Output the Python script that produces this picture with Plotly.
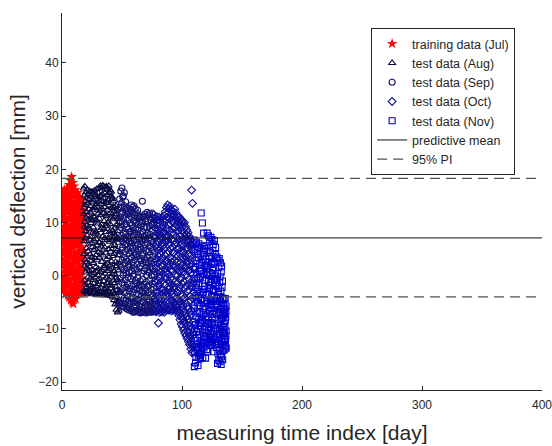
import plotly.graph_objects as go

# ---------------- data ----------------
JUL_START = 0
JUL_Y = [
    [15.1, 13.7, 11.2, 10.4, 8.1, 6.6, 5.9, 3.2, 1.7, -0.4, -1.9, -3.0],
    [14.6, 12.9, 12.2, 9.3, 7.7, 5.0, 4.1, 2.6, 0.8, -1.2, -2.6, 10.8],
    [16.2, 14.3, 11.6, 9.9, 8.6, 6.1, 4.6, 2.1, -0.2, -1.6, -3.4, 13.0],
    [15.5, 13.2, 12.6, 10.1, 7.3, 6.8, 3.7, 1.3, 0.2, -2.4, -3.1, 8.9],
    [16.4, 14.8, 11.9, 9.6, 8.4, 5.5, 3.9, 2.8, -0.7, -1.1, -3.7, 12.3],
    [15.9, 13.5, 12.8, 10.7, 7.9, 6.3, 4.4, 1.8, 0.5, -2.0, -4.1, 9.2],
    [17.1, 15.2, 12.1, 11.0, 8.7, 7.2, 5.1, 2.4, 1.0, -0.9, -3.5, 13.9],
    [17.9, 15.8, 14.4, 11.7, 9.4, 6.9, 4.9, 3.3, 0.6, -1.8, -2.9, -4.6],
    [18.6, 16.7, 13.6, 12.5, 10.2, 7.5, 6.0, 3.5, 1.4, -0.6, -3.2, -5.0],
    [17.5, 16.0, 14.9, 12.0, 9.1, 8.3, 5.3, 2.2, 0.9, -2.1, -3.9, -5.3],
    [16.8, 15.0, 12.4, 11.3, 9.8, 7.0, 4.3, 3.0, 0.1, -1.5, -4.2, 13.4],
    [16.1, 14.0, 13.1, 10.5, 8.2, 6.4, 5.6, 2.5, 1.1, -1.0, -3.6, -4.4],
    [15.2, 13.8, 11.5, 10.9, 8.8, 5.8, 3.6, 2.9, -0.3, -2.2, -3.3, 7.6],
    [15.6, 12.7, 11.8, 9.2, 7.6, 6.9, 4.2, 1.5, 0.4, -1.4, -3.0, 13.9],
    [14.9, 13.3, 12.0, 10.0, 8.5, 6.2, 4.7, 2.0, 0.0, -2.5, -3.4, 9.5],
    [14.5, 12.5, 10.8, 9.7, 7.1, 5.4, 3.1, 1.6, -0.8, -1.7, -3.2, 12.9],
    [14.1, 12.2, 11.1, 8.9, 7.4, 5.2, 3.4, 0.7, -0.5, -2.3, -3.1, 10.3],
    [13.6, 11.4, 9.9, 8.0, 6.7, 4.5, 2.7, 1.2, -1.3, -2.8, -3.3, 12.0],
]

AUG_START = 18
AUG_Y = [
    [16.4, 15.1, 12.8, 11.6, 9.2, 6.5, 4.1, 1.9, -0.9, -2.8],
    [16.8, 14.0, 13.3, 10.1, 8.4, 7.0, 3.0, 0.6, -1.7, -3.1],
    [15.7, 14.7, 12.0, 10.9, 7.6, 5.2, 2.5, 1.4, -2.2, -2.9],
    [16.2, 13.6, 11.3, 9.5, 8.9, 4.6, 3.6, -0.2, -1.3, -3.4],
    [15.3, 14.4, 12.5, 10.6, 6.8, 5.9, 2.2, 0.9, -2.6, -3.0],
    [15.9, 13.1, 11.9, 8.7, 7.3, 4.0, 1.7, -0.5, -1.9, -3.2],
    [15.1, 13.9, 10.8, 9.9, 6.1, 3.5, 2.8, 0.2, -2.4, -3.5],
    [15.8, 14.2, 12.3, 10.4, 8.1, 5.4, 1.1, -0.8, -2.1, -3.1],
    [15.5, 12.9, 11.1, 9.1, 6.6, 4.8, 2.4, 0.5, -1.5, -3.3],
    [16.0, 14.5, 12.7, 11.0, 7.9, 5.1, 3.3, -0.3, -2.7, -3.0],
    [15.2, 13.4, 10.5, 8.3, 6.9, 3.9, 1.6, 0.8, -2.0, -3.6],
    [16.3, 14.8, 13.0, 10.2, 7.7, 5.7, 2.9, 0.1, -1.6, -3.4],
    [15.6, 13.8, 11.7, 9.8, 6.3, 4.4, 1.3, -0.6, -2.5, -3.2],
    [16.5, 15.0, 12.2, 10.7, 8.6, 6.2, 3.4, 0.7, -1.2, -3.5],
    [16.9, 14.1, 13.5, 11.4, 9.0, 5.5, 4.2, 1.0, -2.3, -3.0],
    [16.6, 15.3, 12.6, 9.6, 7.4, 6.0, 2.6, -0.1, -1.8, -3.6],
    [17.0, 14.6, 13.9, 11.8, 8.8, 4.9, 3.8, 1.5, -1.0, -3.3],
    [16.7, 15.5, 12.9, 10.3, 7.1, 5.3, 1.8, 0.4, -2.6, -3.7],
    [16.2, 14.0, 11.5, 9.4, 8.2, 4.3, 2.1, -0.4, -2.0, -3.1],
    [16.8, 15.2, 13.7, 11.2, 9.3, 6.7, 3.1, 0.9, -1.4, -3.4],
    [16.4, 14.3, 12.4, 10.0, 7.0, 5.0, 2.3, -0.7, -2.8, -3.6],
    [16.9, 15.6, 13.2, 11.5, 8.3, 6.4, 3.5, 1.2, -1.7, -3.2],
    [16.1, 14.9, 11.8, 9.7, 7.8, 4.5, 1.9, -0.2, -2.4, -3.8],
    [15.8, 14.4, 12.8, 10.9, 6.7, 5.6, 2.7, 0.3, -1.9, -3.5],
    [14.7, 13.0, 10.6, 8.5, 7.2, 3.7, 1.5, -0.9, -2.9, -4.1],
    [14.0, 12.1, 11.0, 8.0, 5.8, 4.1, 0.8, -1.4, -3.3, -4.6],
    [12.8, 11.3, 9.0, 7.5, 5.0, 2.6, 0.2, -2.1, -4.0, -5.4],
    [13.1, 11.6, 9.6, 6.9, 4.7, 1.8, -0.4, -2.7, -4.8, -6.4],
    [12.3, 10.7, 8.4, 7.1, 3.9, 2.3, -0.8, -3.2, -5.3, -6.9],
    [12.6, 10.1, 9.3, 6.2, 4.4, 1.0, -1.1, -2.9, -4.9, -6.6],
]

SEP_START = 48
SEP_Y = [
    [14.4, 12.9, 10.3, 8.6, 6.9, 4.0, 2.2, -0.5, -3.0, -5.4],
    [15.9, 13.7, 11.6, 9.1, 7.5, 4.8, 1.6, -1.3, -3.7, -5.1],
    [16.5, 14.8, 12.0, 10.2, 6.3, 5.3, 2.9, 0.1, -2.4, -5.7],
    [15.0, 13.2, 10.9, 8.0, 7.1, 3.4, 1.0, -1.8, -4.3, -5.9],
    [15.6, 12.5, 11.4, 9.6, 5.8, 4.5, 2.4, -0.8, -3.2, -5.3],
    [13.9, 12.2, 9.7, 7.8, 6.0, 3.1, 0.5, -2.2, -4.6, -6.1],
    [12.7, 11.5, 9.2, 6.7, 4.9, 2.7, 1.3, -1.5, -3.9, -6.3],
    [12.0, 10.6, 8.8, 7.4, 4.2, 2.0, -0.3, -2.9, -4.8, -5.8],
    [11.7, 9.9, 8.1, 6.4, 5.5, 1.7, 0.6, -2.5, -5.2, -6.5],
    [12.5, 11.1, 8.4, 7.0, 4.6, 3.3, -0.6, -1.9, -4.4, -6.2],
    [13.3, 11.8, 9.5, 6.1, 5.2, 2.5, 0.9, -3.1, -4.1, -6.6],
    [12.9, 10.4, 9.0, 7.6, 3.8, 1.9, -0.1, -2.6, -5.0, -6.9],
    [13.1, 11.3, 8.2, 6.6, 4.4, 3.0, 0.3, -1.7, -4.7, -6.7],
    [12.6, 10.0, 8.9, 5.7, 4.0, 1.2, -0.9, -3.4, -5.5, -6.8],
    [11.8, 10.8, 7.7, 6.3, 3.5, 2.1, -1.4, -2.3, -5.1, -6.6],
    [12.3, 9.6, 8.6, 5.9, 4.8, 0.7, -0.4, -3.6, -4.5, -6.4],
    [11.3, 10.1, 7.2, 6.8, 3.2, 1.5, -1.8, -2.8, -5.7, -6.9],
    [10.9, 9.4, 7.9, 5.4, 2.9, 1.8, -1.0, -3.9, -5.3, -7.0],
    [11.1, 9.8, 6.9, 5.0, 3.7, 0.4, -2.1, -3.0, -5.9, -6.8],
    [14.0, 11.0, 8.3, 6.5, 4.3, 2.3, -0.7, -3.3, -4.9, -6.7],
    [11.2, 9.1, 7.4, 5.1, 3.0, 0.9, -1.6, -4.1, -5.6, -6.9],
    [11.6, 10.3, 6.8, 5.8, 2.6, 1.4, -2.4, -3.7, -6.0, -6.6],
    [10.7, 9.0, 7.6, 4.7, 3.4, 0.1, -1.2, -4.4, -5.4, -7.0],
    [11.9, 10.2, 8.0, 6.2, 2.4, 1.1, -2.0, -3.2, -5.8, -6.4],
    [11.4, 9.3, 7.1, 4.5, 3.9, 0.6, -1.9, -4.6, -5.0, -6.8],
    [11.7, 10.5, 7.8, 5.6, 2.8, 1.6, -0.8, -3.5, -6.1, -6.7],
    [11.0, 9.5, 6.6, 5.3, 2.2, 0.0, -2.6, -4.0, -5.7, -6.9],
    [11.8, 9.7, 8.5, 4.9, 3.6, 1.3, -1.5, -3.8, -5.2, -6.5],
    [11.5, 10.0, 7.3, 6.0, 2.5, 0.2, -2.2, -4.3, -6.2, -6.8],
    [10.9, 8.9, 7.5, 4.4, 3.1, 0.8, -1.1, -4.8, -5.5, -6.7],
]

OCT_START = 78
OCT_Y = [
    [10.8, 9.6, 7.2, 5.5, 3.0, 1.4, -1.3, -3.8, -5.4, -6.8],
    [11.1, 8.7, 6.4, 5.9, 2.3, 0.5, -2.1, -3.1, -5.9, -6.6],
    [10.5, 9.3, 7.7, 4.8, 3.6, 1.0, -0.9, -4.2, -5.1, -8.9],
    [11.0, 8.4, 6.9, 4.2, 2.7, -0.2, -1.7, -3.5, -6.1, -6.9],
    [10.2, 9.0, 7.4, 5.2, 1.9, 0.7, -2.5, -4.5, -5.6, -6.7],
    [10.9, 8.1, 6.1, 4.5, 3.3, 1.8, -1.0, -3.3, -5.2, -6.8],
    [10.4, 9.4, 7.0, 5.6, 2.1, 0.3, -2.7, -4.0, -6.0, -6.5],
    [11.3, 10.1, 8.2, 5.0, 3.8, 1.2, -1.4, -3.7, -5.5, -6.9],
    [12.0, 10.5, 7.6, 6.3, 2.9, 0.6, -0.6, -2.9, -5.0, -6.6],
    [12.8, 11.0, 8.9, 7.1, 4.1, 2.2, -0.3, -3.4, -4.7, -6.4],
    [13.3, 11.9, 9.5, 6.6, 4.6, 1.5, 0.4, -2.6, -5.3, -6.3],
    [12.6, 10.8, 8.5, 7.4, 3.4, 2.0, -1.1, -2.2, -4.9, -6.5],
    [13.0, 11.5, 9.8, 6.0, 5.1, 1.1, -0.5, -3.0, -5.7, -6.2],
    [12.4, 10.2, 8.0, 6.8, 3.2, 2.6, -1.6, -3.6, -4.6, -6.6],
    [12.2, 11.2, 8.7, 5.4, 4.4, 0.9, -0.8, -2.4, -5.8, -6.4],
    [11.6, 10.0, 7.9, 6.5, 2.8, 1.7, -2.0, -3.9, -5.1, -6.5],
    [12.5, 10.9, 9.1, 5.8, 3.9, 0.2, -1.2, -4.3, -5.6, -6.3],
    [11.8, 9.5, 7.3, 6.2, 2.5, 1.3, -2.3, -3.2, -6.0, -6.6],
    [11.2, 10.3, 8.4, 4.9, 3.7, 0.0, -1.5, -4.6, -5.4, -6.8],
    [10.9, 9.1, 6.8, 5.3, 1.6, 0.8, -2.8, -4.9, -6.7, -7.5],
    [11.0, 9.8, 7.5, 4.1, 2.4, -0.7, -2.2, -5.3, -6.9, -8.3],
    [10.6, 8.5, 6.0, 4.7, 1.2, -0.4, -3.4, -5.9, -7.6, -9.1],
    [10.3, 9.2, 6.7, 3.5, 2.0, -1.6, -3.9, -5.5, -8.1, -9.6],
    [9.8, 8.0, 5.6, 4.3, 0.7, -1.1, -4.5, -6.6, -8.6, -10.2],
    [10.0, 7.3, 6.2, 2.9, 1.5, -2.4, -4.1, -7.2, -9.0, -10.8],
    [9.2, 7.8, 4.9, 3.6, 0.1, -1.9, -5.2, -7.7, -9.5, -11.3],
    [8.6, 6.8, 5.3, 2.3, 0.9, -3.0, -5.8, -8.2, -10.4, -11.8],
    [8.1, 6.4, 4.1, 2.8, -0.6, -2.7, -6.3, -8.8, -10.9, -12.4],
    [7.4, 5.9, 3.6, 1.0, -1.3, -3.8, -6.9, -9.4, -11.5, -13.0],
    [6.8, 5.1, 2.9, 0.5, -2.0, -4.7, -7.4, -10.0, -12.3, -13.8],
    [16.1, 13.6, 5.7, 2.2, -0.9, -4.2, -6.6, -10.7, -12.9, -14.5],
    [6.2, 4.6, 1.4, -1.5, -3.2, -5.5, -8.7, -11.1, -13.4, -14.2],
]

NOV_START = 110
NOV_Y = [
    [6.7, 4.9, 1.2, -0.6, -4.4, -6.1, -9.9, -11.8, -14.5, -17.1],
    [5.9, 2.8, 1.6, -2.2, -3.7, -7.6, -9.2, -12.9, -15.4, -16.4],
    [6.3, 4.1, 0.3, -1.4, -5.0, -6.8, -10.5, -12.2, -14.0, -13.4],
    [5.4, 3.4, -0.5, -2.9, -4.1, -8.3, -10.0, -13.6, -15.1, -16.9],
    [6.0, 2.2, 0.8, -1.9, -5.6, -7.0, -11.1, -12.5, -14.7, -9.0],
    [5.2, 3.7, -0.1, -3.3, -4.7, -8.8, -9.5, -13.2, -14.9, -15.6],
    [11.8, 5.6, 2.5, 0.9, -2.6, -4.3, -7.9, -10.6, -12.7, -14.1],
    [9.9, 4.4, 3.0, -0.4, -3.1, -6.2, -8.5, -11.3, -13.4, -15.4],
    [8.0, 5.1, 1.9, 0.4, -2.0, -5.8, -7.2, -10.1, -12.1, -13.6],
    [4.8, 3.1, -0.8, -2.5, -6.4, -7.7, -11.5, -12.8, -15.5, -9.6],
    [5.6, 2.0, 1.1, -3.6, -4.9, -8.1, -10.8, -11.9, -13.9, 1.8],
    [8.0, 4.6, 1.7, 0.2, -3.3, -5.2, -9.0, -10.3, -12.6, -14.3],
    [7.5, 3.6, 2.6, -1.1, -2.4, -6.7, -8.2, -11.6, -12.4, -9.8],
    [6.4, 4.3, 0.6, -1.8, -4.5, -6.0, -9.6, -11.0, -12.9, -4.6],
    [7.2, 3.2, 2.3, -0.7, -3.9, -5.4, -8.8, -10.9, -12.3, -13.1],
    [6.8, 4.7, 1.0, -1.3, -2.9, -7.3, -8.0, -11.4, -12.6, 0.4],
    [5.9, 2.6, 1.4, -2.6, -4.0, -6.5, -10.4, -11.7, -14.3, -2.8],
    [6.6, 4.0, 0.0, -0.9, -4.8, -5.9, -9.3, -12.0, -12.9, -7.9],
    [5.3, 3.3, -0.6, -2.0, -5.3, -7.1, -10.0, -12.7, -13.5, -0.9],
    [3.5, 0.4, -0.9, -4.3, -5.9, -9.7, -11.2, -14.6, -16.5, -5.6],
    [2.9, 1.5, -2.4, -3.5, -7.4, -8.9, -12.7, -14.0, -15.9, -3.0],
    [3.2, -0.2, -1.3, -4.8, -6.3, -10.2, -11.6, -14.9, -16.2, -10.9],
    [2.4, 0.7, -2.9, -4.0, -8.0, -9.4, -13.0, -15.3, -16.7, -7.0],
    [1.8, -1.0, -2.2, -5.7, -7.5, -10.7, -12.4, -15.8, -14.2, -12.0],
    [-4.2, -5.2, -7.4, -8.0, -10.2, -11.0, -12.9, -14.0, -6.3, -9.6],
    [-4.5, -6.1, -6.9, -8.9, -9.7, -11.8, -12.5, -13.8, -7.1, -10.6],
    [-4.3, -5.7, -7.8, -8.4, -10.4, -11.3, -13.3, -13.6, -6.6, -12.0],
]

PRED_MEAN = 7.1
PI_LOWER = -4.0
PI_UPPER = 18.3
X_RANGE = [0, 400]
Y_RANGE = [-21.5, 49.4]
X_TICKS = [0, 100, 200, 300, 400]
Y_TICKS = [-20, -10, 0, 10, 20, 30, 40]

LABELS = ["training data (Jul)", "test data (Aug)", "test data (Sep)",
          "test data (Oct)", "test data (Nov)", "predictive mean", "95% PI"]


def flatten(start, rows):
    """Hourly readings of each day are spread across that day."""
    xs, ys = [], []
    for d, row in enumerate(rows):
        n = len(row)
        for k, v in enumerate(row):
            xs.append(start + d + ((k * 7) % n) / n)
            ys.append(v)
    return xs, ys


FONT = "Liberation Sans, Arial, sans-serif"
TXT = "#262626"

fig = go.Figure()

series = [
    (JUL_START, JUL_Y, LABELS[0], "star", "#ff0000", 8, True),
    (AUG_START, AUG_Y, LABELS[1], "triangle-up-open", "#0a0a42", 6, False),
    (SEP_START, SEP_Y, LABELS[2], "circle-open", "#121272", 6, False),
    (OCT_START, OCT_Y, LABELS[3], "diamond-open", "#0d0d9c", 6, False),
    (NOV_START, NOV_Y, LABELS[4], "square-open", "#0000cc", 6, False),
]
for start, rows, name, sym, col, size, filled in series:
    xs, ys = flatten(start, rows)
    fig.add_trace(go.Scatter(
        x=xs, y=ys, mode="markers", name=name,
        marker=dict(symbol=sym, size=size, color=col,
                    line=dict(width=0 if filled else 1.1, color=col)),
    ))

fig.add_trace(go.Scatter(x=X_RANGE, y=[PRED_MEAN, PRED_MEAN], mode="lines",
                         name=LABELS[5], line=dict(color="#111111", width=1)))
fig.add_trace(go.Scatter(x=X_RANGE, y=[PI_UPPER, PI_UPPER], mode="lines",
                         name=LABELS[6],
                         line=dict(color="#555555", width=1.2, dash="10px,6px")))
fig.add_trace(go.Scatter(x=X_RANGE, y=[PI_LOWER, PI_LOWER], mode="lines",
                         showlegend=False,
                         line=dict(color="#555555", width=1.2, dash="10px,6px")))

axis_common = dict(
    showgrid=False, zeroline=False, showline=True, linecolor=TXT, linewidth=1,
    ticks="inside", ticklen=4, tickcolor=TXT, mirror=False, automargin=False,
    tickfont=dict(family=FONT, size=12, color=TXT),
)
fig.update_layout(
    width=552, height=446,
    margin=dict(l=62, r=10, t=13, b=56, autoexpand=False),
    paper_bgcolor="white", plot_bgcolor="white",
    font=dict(family=FONT, color=TXT),
    xaxis=dict(range=X_RANGE, tickvals=X_TICKS, ticklabeloverflow="allow",
               ticklabelstandoff=4, **axis_common,
               title=dict(text="measuring time index [day]",
                          font=dict(family=FONT, size=21, color=TXT), standoff=13)),
    yaxis=dict(range=Y_RANGE, tickvals=Y_TICKS, **axis_common,
               title=dict(text="vertical deflection [mm]",
                          font=dict(family=FONT, size=21, color=TXT), standoff=6)),
    legend=dict(x=0.644, y=0.96, xanchor="left", yanchor="top",
                bordercolor="#262626", borderwidth=1, bgcolor="white",
                font=dict(family=FONT, size=12.5, color=TXT),
                tracegroupgap=0, itemwidth=30),
    showlegend=True,
)

fig.write_html("out.html")
